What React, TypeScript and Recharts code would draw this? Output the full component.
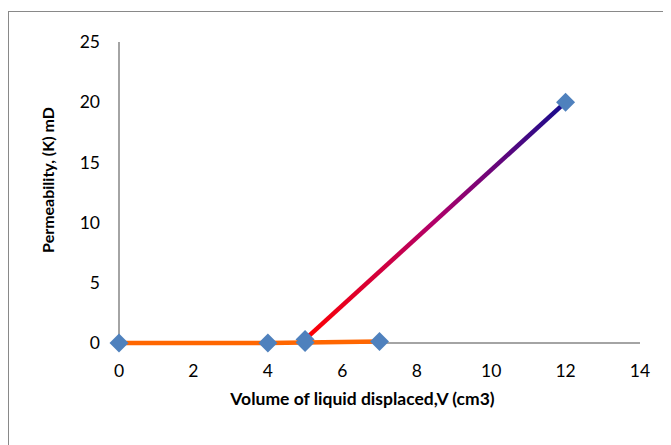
import React from 'react';
import { ScatterChart, Scatter, XAxis, YAxis, Label } from 'recharts';

const flatSeries = [
  { v: 0, k: 0 },
  { v: 4, k: 0 },
  { v: 5, k: 0.05 },
  { v: 7, k: 0.12 },
];
const riseSeries = [
  { v: 5, k: 0.3 },
  { v: 12, k: 20 },
];
const xTicks = [0, 2, 4, 6, 8, 10, 12, 14];
const yTicks = [0, 5, 10, 15, 20, 25];
const xTitle = 'Volume of liquid displaced,V (cm3)';
const yTitle = 'Permeability, (K) mD';

const FONT = 'Lato, "Open Sans", sans-serif';

const Diamond = (props: any) => {
  const { cx, cy } = props;
  if (cx == null || cy == null) return <g />;
  const r = 9.5;
  return (
    <path
      d={`M${cx},${cy - r}L${cx + r},${cy}L${cx},${cy + r}L${cx - r},${cy}Z`}
      fill="#4F81BD"
    />
  );
};

export default function App() {
  return (
    <div style={{ paddingTop: 3 }}>
      <div
        style={{
          width: 662,
          height: 433,
          borderTop: '1px solid #898989',
          borderLeft: '1px solid #898989',
          fontFamily: FONT,
        }}
      >
        <ScatterChart
          width={662}
          height={433}
          margin={{ top: 30, right: 31, left: 0, bottom: 42 }}
        >
          <defs>
            <linearGradient id="riseGrad" x1="0" y1="1" x2="1" y2="0">
              <stop offset="0%" stopColor="#FF0000" />
              <stop offset="50%" stopColor="#B0006A" />
              <stop offset="100%" stopColor="#140C8E" />
            </linearGradient>
          </defs>
          <XAxis
            type="number"
            dataKey="v"
            domain={[0, 14]}
            ticks={xTicks}
            height={60}
            axisLine={{ stroke: '#868686', strokeWidth: 1.5 }}
            tickLine={false}
            tickSize={0}
            tickMargin={22}
            tick={{ fill: '#000', fontSize: 17.5, fontFamily: FONT }}
          >
            <Label
              content={({ viewBox }: any) => (
                <text
                  x={viewBox.x + viewBox.width / 2 - 17}
                  y={386}
                  textAnchor="middle"
                  dominantBaseline="central"
                  fontSize={17.5}
                  fontWeight="bold"
                  fontFamily={FONT}
                  fill="#000"
                >
                  {xTitle}
                </text>
              )}
            />
          </XAxis>
          <YAxis
            type="number"
            dataKey="k"
            domain={[0, 25]}
            ticks={yTicks}
            width={110}
            axisLine={{ stroke: '#868686', strokeWidth: 1.5 }}
            tickLine={false}
            tickSize={0}
            tickMargin={19}
            tick={{ fill: '#000', fontSize: 17.5, fontFamily: FONT }}
          >
            <Label
              content={() => (
                <text
                  x={38}
                  y={168}
                  transform="rotate(-90 38 168)"
                  textAnchor="middle"
                  dominantBaseline="central"
                  fontSize={16}
                  fontWeight="bold"
                  fontFamily={FONT}
                  fill="#000"
                >
                  {yTitle}
                </text>
              )}
            />
          </YAxis>
          <Scatter
            data={riseSeries}
            fill="#4F81BD"
            line={{ stroke: 'url(#riseGrad)', strokeWidth: 4.5 }}
            lineType="joint"
            shape={<Diamond />}
            isAnimationActive={false}
          />
          <Scatter
            data={flatSeries}
            fill="#4F81BD"
            line={{ stroke: '#FF6600', strokeWidth: 4.5 }}
            lineType="joint"
            shape={<Diamond />}
            isAnimationActive={false}
          />
        </ScatterChart>
      </div>
    </div>
  );
}
